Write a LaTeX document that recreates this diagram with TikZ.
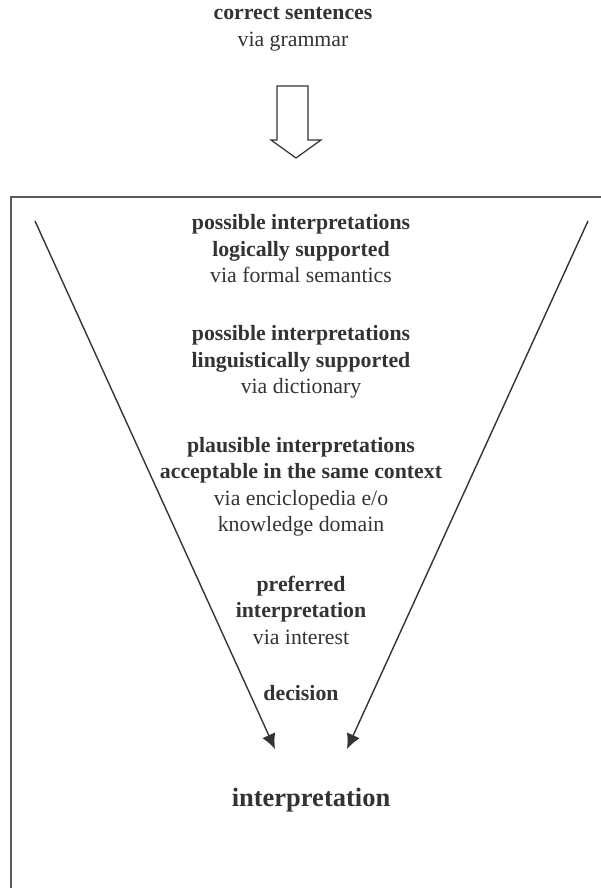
\documentclass[tikz,border=0pt]{standalone}
\usepackage{fontspec}
\setmainfont{Liberation Serif}
\usepackage{xcolor}
\usepackage{tikz}
\usetikzlibrary{arrows.meta}
\definecolor{ink}{HTML}{333333}
\definecolor{frame}{HTML}{5A5A5A}

\begin{document}
\begin{tikzpicture}[x=1pt,y=-1pt,
    txt/.style={align=center, text=ink, font=\fontsize{21.8}{26.5}\selectfont, inner sep=0pt},
    big/.style={text=ink, font=\fontsize{26.5}{30}\selectfont\bfseries, inner sep=0pt},
    arr/.style={draw=ink, line width=1.4pt, -{Latex[length=15pt,width=14pt]}}]
			\useasboundingbox (0,0) rectangle (600,888);

			% INPUT
			\node[txt] (input) at (293,29) {\textbf{correct sentences}\\via grammar};
			\draw[ink, line width=1.2pt, fill=white] (277,86) -- (308,86) -- (308,140) -- (321,140) -- (296,158) -- (271,140) -- (277,140) -- cycle;

			% FRAME
			\draw[frame, line width=2pt] (11,900) -- (11,197) -- (620,197);

			% LEVELS
			\node[txt] (logic) at (301,249) {\textbf{possible interpretations}\\\textbf{logically supported}\\via formal semantics};
			\node[txt] (lingu) at (301,362) {\textbf{possible interpretations}\\\textbf{linguistically supported}\\via dictionary};
			\node[txt] (plaus) at (301,487) {\textbf{plausible interpretations}\\\textbf{acceptable in the same context}\\via enciclopedia e/o\\knowledge domain};
			\node[txt] (prefer) at (301,610) {\textbf{preferred}\\\textbf{interpretation}\\via interest};
			\node[txt] (decide) at (301,693) {\textbf{decision}};
			\node[big] (interp) at (311,800) {interpretation};

			% FUNNEL
			\coordinate (ltop) at (35,221);
			\coordinate (rtop) at (588,221);
			\coordinate (lend) at (275,749);
			\coordinate (rend) at (347,749);
			\draw [arr] (ltop) -- (lend);
			\draw [arr] (rtop) -- (rend);
\end{tikzpicture}
\end{document}
